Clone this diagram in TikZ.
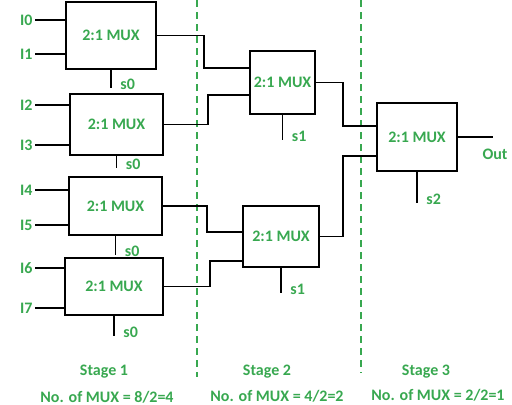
\documentclass[tikz,border=0pt]{standalone}
\usepackage{fontspec}
\setmainfont{Carlito}
\usetikzlibrary{calc}
\definecolor{lblgreen}{RGB}{56,168,80}

\begin{document}
\begin{tikzpicture}[x=0.5pt,y=-0.5pt,
    lbl/.style={text=lblgreen,font=\bfseries\fontsize{8}{8}\selectfont,inner sep=0},
    mux/.style={draw,line width=0.7pt,lbl},
    wire/.style={line width=0.7pt},
    sep/.style={draw=lblgreen,line width=0.65pt,dash pattern=on 3.5pt off 2.5pt}]

    \useasboundingbox (0,0) rectangle (512,404);

    % stage separators
    \draw[sep] (197,0) -- (197,377);
    \draw[sep] (361,0) -- (361,373);

    % stage 1
    \node[mux,minimum width=45pt,minimum height=33.5pt] (m1) at (111,35.5) {2:1 MUX};
    \node[mux,minimum width=46.5pt,minimum height=30.5pt] (m2) at (116.5,124.5) {2:1 MUX};
    \node[mux,minimum width=46.5pt,minimum height=29pt] (m3) at (115.5,206) {2:1 MUX};
    \node[mux,minimum width=49pt,minimum height=28.5pt] (m4) at (114,286.5) {2:1 MUX};
    % stage 2
    \node[mux,minimum width=32.5pt,minimum height=31.5pt] (m5) at (282.5,82.5) {2:1 MUX};
    \node[mux,minimum width=38pt,minimum height=30.5pt] (m6) at (281,236.5) {2:1 MUX};
    % stage 3
    \node[mux,minimum width=40pt,minimum height=34pt] (m7) at (417,137) {2:1 MUX};

    % inputs
    \foreach \n/\y/\m in {0/20/m1,1/54/m1,2/105/m2,3/145/m2,4/190/m3,5/225/m3,6/268/m4,7/308/m4}
    {
    \node[lbl,anchor=east] (i\n) at (33,\y) {I\n};
    \draw[wire] (i\n.east) ++(2,0) -- (\m.west |- i\n.east);
    }

    % selects
    \foreach \m/\l/\d/\s in {m1/s0/18/sa,m2/s0/12/sb,m3/s0/19/sc,m4/s0/20/sd,m5/s1/25/se,m6/s1/25/sf,m7/s2/31/sg}
    {
    \draw[wire] (\m.south) -- ++(0,\d) coordinate (\s);
    \node[lbl,anchor=west] (\s l) at ($(\s)+(9,-3)$) {\l};
    }

    % stage 1 to stage 2
    \draw[wire] (m1.east) -| (204,68) -- (m5.west |- 204,68);
    \draw[wire] (m2.east) -| (208,95) -- (m5.west |- 208,95);
    \draw[wire] (m3.east) -| (207,232) -- (m6.west |- 207,232);
    \draw[wire] (m4.east) -| (210,261) -- (m6.west |- 210,261);
    % stage 2 to stage 3
    \draw[wire] (m5.east) -| (343,126) -- (m7.west |- 343,126);
    \draw[wire] (m6.east) -| (343,156) -- (m7.west |- 343,156);
    \draw[wire] (m7.east) -- ++(35,0) coordinate (out);
    \node[lbl] (outl) at (495,154) {Out};

    % stage captions
    \node[lbl] (st1) at (104,372) {Stage 1};
    \node[lbl] (st2) at (267,372) {Stage 2};
    \node[lbl] (st3) at (426,372) {Stage 3};
    \node[lbl] (n1) at (107,397) {No. of MUX = 8/2=4};
    \node[lbl] (n2) at (277,396) {No. of MUX = 4/2=2};
    \node[lbl] (n3) at (438,395) {No. of MUX = 2/2=1};

\end{tikzpicture}
\end{document}
